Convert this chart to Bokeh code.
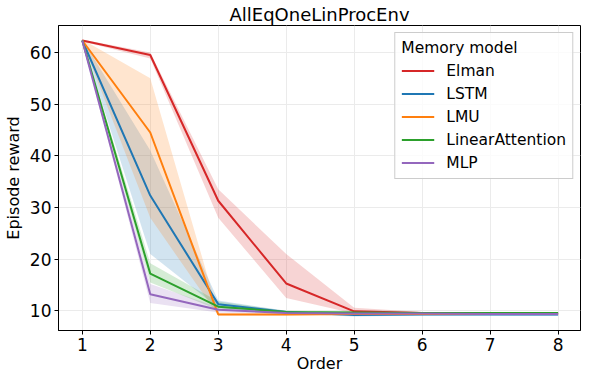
from bokeh.plotting import figure
from bokeh.embed import file_html
from bokeh.resources import INLINE
from bokeh.models import Legend, LegendItem, Range1d

orders = [1, 2, 3, 4, 5, 6, 7, 8]

elman = [62.3, 59.5, 31.3, 15.3, 9.9, 9.6, 9.6, 9.5]
elman_lo = [62.1, 58.8, 28.0, 12.5, 9.5, 9.4, 9.4, 9.3]
elman_hi = [62.5, 60.0, 33.5, 21.0, 10.6, 9.8, 9.8, 9.6]

lstm = [62.3, 32.3, 11.3, 9.8, 9.2, 9.3, 9.3, 9.3]
lstm_lo = [62.1, 21.0, 10.6, 9.5, 8.9, 9.1, 9.1, 9.0]
lstm_hi = [62.5, 41.0, 12.0, 10.0, 9.5, 9.5, 9.5, 9.5]

lmu = [62.3, 44.5, 9.3, 9.3, 9.4, 9.4, 9.4, 9.4]
lmu_lo = [62.1, 28.0, 9.1, 9.1, 9.2, 9.2, 9.2, 9.2]
lmu_hi = [62.5, 55.0, 9.6, 9.5, 9.6, 9.6, 9.6, 9.6]

linatt = [62.3, 17.2, 10.8, 9.8, 9.7, 9.6, 9.6, 9.6]
linatt_lo = [62.1, 15.5, 10.2, 9.6, 9.5, 9.4, 9.4, 9.4]
linatt_hi = [62.5, 19.2, 11.8, 10.0, 9.9, 9.8, 9.8, 9.8]

mlp = [62.3, 13.2, 10.2, 9.6, 9.5, 9.5, 9.4, 9.4]
mlp_lo = [62.1, 11.5, 9.7, 9.4, 9.3, 9.3, 9.2, 9.2]
mlp_hi = [62.5, 15.2, 10.7, 9.8, 9.7, 9.7, 9.6, 9.6]

series = [
    ("Elman", "#d62728", elman, elman_lo, elman_hi),
    ("LSTM", "#1f77b4", lstm, lstm_lo, lstm_hi),
    ("LMU", "#ff7f0e", lmu, lmu_lo, lmu_hi),
    ("LinearAttention", "#2ca02c", linatt, linatt_lo, linatt_hi),
    ("MLP", "#9467bd", mlp, mlp_lo, mlp_hi),
]

FONT = "DejaVu Sans"

p = figure(width=582, height=375, output_backend="svg", toolbar_location=None,
           title="AllEqOneLinProcEnv",
           x_range=Range1d(0.65, 8.33), y_range=Range1d(6.2, 65.2),
           min_border_left=0, min_border_right=2, min_border_top=0, min_border_bottom=0)

p.title.align = "center"
p.title.text_font = FONT
p.title.text_font_size = "18px"
p.title.text_font_style = "normal"
p.title.text_color = "black"
p.title.standoff = 2

p.xaxis.axis_label = "Order"
p.yaxis.axis_label = "Episode reward"
for ax in (p.xaxis, p.yaxis):
    ax.axis_label_text_font = FONT
    ax.axis_label_text_font_size = "16px"
    ax.axis_label_text_font_style = "normal"
    ax.axis_label_text_color = "black"
    ax.major_label_text_font = FONT
    ax.major_label_text_font_size = "17px"
    ax.major_label_text_color = "black"
    ax.axis_line_color = "black"
    ax.major_tick_line_color = "black"
    ax.minor_tick_line_color = None
    ax.major_tick_out = 4
    ax.major_tick_in = 0
    ax.major_label_standoff = 3
p.xaxis.ticker = orders
p.yaxis.ticker = [10, 20, 30, 40, 50, 60]
p.xaxis.axis_label_standoff = 0
p.yaxis.axis_label_standoff = 4

p.outline_line_color = "black"
p.outline_line_alpha = 1.0
p.grid.grid_line_color = "#ebebeb"
p.grid.grid_line_width = 1

items = []
for name, color, mid, lo, hi in series:
    p.varea(x=orders, y1=lo, y2=hi, fill_color=color, fill_alpha=0.2)
for name, color, mid, lo, hi in series:
    r = p.line(orders, mid, line_color=color, line_width=2)
    items.append(LegendItem(label=name, renderers=[r]))

legend = Legend(items=items, location="top_right", title="Memory model")
legend.title_text_font = FONT
legend.title_text_font_size = "15.5px"
legend.title_text_font_style = "normal"
legend.title_text_color = "black"
legend.title_standoff = 4
legend.label_text_font = FONT
legend.label_text_font_size = "15.5px"
legend.label_text_color = "black"
legend.border_line_color = "#cccccc"
legend.border_line_alpha = 1.0
legend.background_fill_alpha = 0.8
legend.glyph_width = 33
legend.label_standoff = 12
legend.spacing = 4
legend.label_height = 19
legend.glyph_height = 19
legend.margin = 7
legend.padding = 6
p.add_layout(legend)

open("out.html", "w").write(file_html(p, INLINE))
